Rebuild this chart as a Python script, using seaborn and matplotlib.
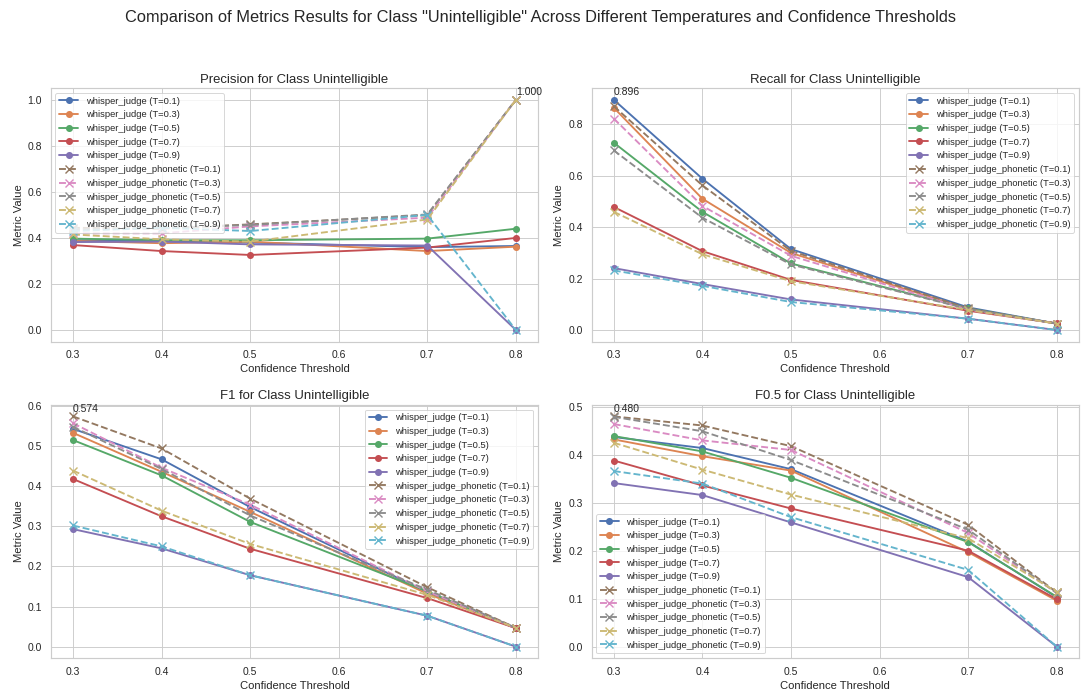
import numpy as np
import pandas as pd
import seaborn as sns
import matplotlib.pyplot as plt

# Limiares de confiança avaliados
thresholds = [0.3, 0.4, 0.5, 0.7, 0.8]
temps = ['0.1', '0.3', '0.5', '0.7', '0.9']

# Precision - whisper_judge (T=0.1 .. 0.9)
prec_judge = [
    [0.390, 0.388, 0.380, 0.360, 0.365],
    [0.387, 0.377, 0.384, 0.343, 0.362],
    [0.397, 0.390, 0.390, 0.397, 0.440],
    [0.369, 0.343, 0.326, 0.358, 0.400],
    [0.382, 0.384, 0.372, 0.367, 0.000],
]
# Precision - whisper_judge_phonetic
prec_phon = [
    [0.444, 0.440, 0.459, 0.499, 1.000],
    [0.420, 0.420, 0.450, 0.488, 1.000],
    [0.437, 0.444, 0.456, 0.502, 1.000],
    [0.415, 0.394, 0.384, 0.480, 1.000],
    [0.430, 0.444, 0.430, 0.500, 0.000],
]

# Recall
rec_judge = [
    [0.896, 0.589, 0.315, 0.088, 0.025],
    [0.865, 0.511, 0.300, 0.082, 0.025],
    [0.729, 0.460, 0.259, 0.084, 0.025],
    [0.479, 0.307, 0.195, 0.075, 0.026],
    [0.241, 0.179, 0.119, 0.044, 0.000],
]
rec_phon = [
    [0.871, 0.563, 0.308, 0.084, 0.025],
    [0.823, 0.483, 0.289, 0.079, 0.025],
    [0.699, 0.437, 0.255, 0.082, 0.025],
    [0.460, 0.295, 0.190, 0.078, 0.025],
    [0.232, 0.172, 0.109, 0.044, 0.000],
]

# F1
f1_judge = [
    [0.543, 0.467, 0.348, 0.136, 0.046],
    [0.533, 0.436, 0.336, 0.132, 0.046],
    [0.515, 0.427, 0.311, 0.138, 0.046],
    [0.418, 0.325, 0.244, 0.121, 0.046],
    [0.293, 0.245, 0.178, 0.077, 0.000],
]
f1_phon = [
    [0.574, 0.494, 0.369, 0.148, 0.047],
    [0.557, 0.446, 0.354, 0.138, 0.046],
    [0.548, 0.443, 0.327, 0.142, 0.047],
    [0.439, 0.339, 0.256, 0.129, 0.047],
    [0.302, 0.250, 0.178, 0.077, 0.000],
]

# F0.5
f05_judge = [
    [0.437, 0.414, 0.370, 0.219, 0.103],
    [0.432, 0.397, 0.367, 0.197, 0.096],
    [0.439, 0.407, 0.352, 0.218, 0.104],
    [0.388, 0.336, 0.288, 0.200, 0.099],
    [0.341, 0.316, 0.259, 0.145, 0.000],
]
f05_phon = [
    [0.480, 0.461, 0.418, 0.254, 0.113],
    [0.464, 0.430, 0.410, 0.237, 0.112],
    [0.479, 0.449, 0.389, 0.244, 0.112],
    [0.425, 0.369, 0.317, 0.226, 0.114],
    [0.366, 0.340, 0.270, 0.160, 0.000],
]

metricas = [
    ('Precision', prec_judge, prec_phon, 'upper left'),
    ('Recall', rec_judge, rec_phon, 'upper right'),
    ('F1', f1_judge, f1_phon, 'upper right'),
    ('F0.5', f05_judge, f05_phon, 'lower left'),
]

sns.set_theme(style='whitegrid')
plt.rcParams['font.family'] = ['Liberation Sans', 'DejaVu Sans']

cores = sns.color_palette('deep', 10)

fig, axes = plt.subplots(2, 2, figsize=(16, 10.287), dpi=67.5625)
fig.subplots_adjust(left=0.047, right=0.998, top=0.873, bottom=0.053,
                    wspace=0.11, hspace=0.25)

for ax, (nome, judge, phon, loc) in zip(axes.flat, metricas):
    for i, t in enumerate(temps):
        sns.lineplot(x=thresholds, y=judge[i], ax=ax, color=cores[i],
                     marker='o', markersize=7.5, markeredgewidth=0,
                     markeredgecolor=cores[i],
                     linewidth=2, label=f'whisper_judge (T={t})')
    for i, t in enumerate(temps):
        sns.lineplot(x=thresholds, y=phon[i], ax=ax, color=cores[5 + i],
                     marker='x', markersize=7.5, markeredgewidth=1.5,
                     markeredgecolor=cores[5 + i],
                     linestyle='--', linewidth=2,
                     label=f'whisper_judge_phonetic (T={t})')

    # Anotar o valor máximo
    todos = np.array(judge + phon)
    idx = np.unravel_index(todos.argmax(), todos.shape)
    ax.annotate(f'{todos.max():.3f}', (thresholds[idx[1]], todos.max()),
                textcoords='offset points', xytext=(0, 5), fontsize=11)

    ax.set_title(f'{nome} for Class Unintelligible', fontsize=14)
    ax.set_xlabel('Confidence Threshold', fontsize=12)
    ax.set_ylabel('Metric Value', fontsize=12)
    ax.tick_params(labelsize=11)
    ax.legend(loc=loc, fontsize=10)

fig.suptitle('Comparison of Metrics Results for Class "Unintelligible" Across '
             'Different Temperatures and Confidence Thresholds',
             fontsize=17.5, y=0.985)
plt.savefig('out.png')
